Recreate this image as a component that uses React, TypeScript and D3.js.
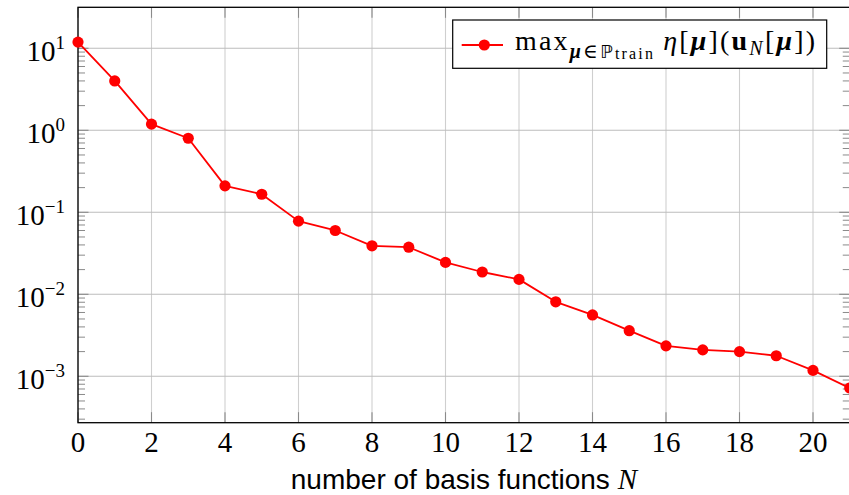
import React from 'react';
import * as d3 from 'd3';

// number of basis functions N
const basisN = [0, 1, 2, 3, 4, 5, 6, 7, 8, 9, 10, 11, 12, 13, 14, 15, 16, 17, 18, 19, 20, 21];
// max error estimator over training set
const maxEta = [
    11.9, 4.0, 1.19, 0.80, 0.21, 0.166, 0.078, 0.060, 0.039, 0.0375,
    0.0245, 0.0187, 0.0152, 0.0081, 0.0056, 0.0036, 0.00235, 0.00210,
    0.00200, 0.00178, 0.00118, 0.00072,
];
const xTicks = [0, 2, 4, 6, 8, 10, 12, 14, 16, 18, 20];
const yExponents = [1, 0, -1, -2, -3];

const W = 849;
const H = 495;
const margin = { top: 7.3, right: -0.75, bottom: 72.3, left: 78 };
const serif = '"Liberation Serif", "DejaVu Serif", serif';

const App = () => {
    const x = d3.scaleLinear()
        .domain([0, 21])
        .range([margin.left, W - margin.right]);

    const y = d3.scaleLog()
        .domain([Math.pow(10, -3.566), Math.pow(10, 1.5)])
        .range([H - margin.bottom, margin.top]);

    const [x0, x1] = x.range();
    const [yb, yt] = y.range();

    const pts = basisN.map((n, i) => ({ n, v: maxEta[i] }));

    const line = d3.line<{ n: number; v: number }>()
        .x(d => x(d.n))
        .y(d => y(d.v));

    // minor log ticks, only from the lowest decade up to the top major tick
    const minor: number[] = [];
    for (let e = -4; e <= 0; e++) {
        for (let k = 2; k <= 9; k++) {
            const v = k * Math.pow(10, e);
            if (v >= y.domain()[0] && v <= y.domain()[1]) minor.push(v);
        }
    }

    const fmtExp = (e: number) => (e < 0 ? '\u2212' + Math.abs(e) : String(e));

    return (
        <svg width={W} height={H} style={{ position: 'absolute', left: 0, top: 0, display: 'block' }}>
            <rect x={0} y={0} width={W} height={H} fill="white" />

            {/* grid */}
            {xTicks.map(t => (
                <line key={'gx' + t} x1={x(t)} x2={x(t)} y1={yt} y2={yb} stroke="#cfcfcf" strokeWidth={1.1} />
            ))}
            {yExponents.map(e => (
                <line key={'gy' + e} x1={x0} x2={x1} y1={y(Math.pow(10, e))} y2={y(Math.pow(10, e))} stroke="#bdbdbd" strokeWidth={1.1} />
            ))}

            {/* ticks */}
            {xTicks.map(t => (
                <g key={'tx' + t} stroke="#8a8a8a" strokeWidth={1.1}>
                    <line x1={x(t)} x2={x(t)} y1={yb} y2={yb - 10.5} />
                    <line x1={x(t)} x2={x(t)} y1={yt} y2={yt + 10.5} />
                </g>
            ))}
            {yExponents.map(e => (
                <g key={'ty' + e} stroke="#8a8a8a" strokeWidth={1.1}>
                    <line x1={x0} x2={x0 + 10.5} y1={y(Math.pow(10, e))} y2={y(Math.pow(10, e))} />
                    <line x1={x1} x2={x1 - 10.5} y1={y(Math.pow(10, e))} y2={y(Math.pow(10, e))} />
                </g>
            ))}
            {minor.map(v => (
                <g key={'tm' + v} stroke="#8a8a8a" strokeWidth={1}>
                    <line x1={x0} x2={x0 + 7} y1={y(v)} y2={y(v)} />
                    <line x1={x1} x2={x1 - 7} y1={y(v)} y2={y(v)} />
                </g>
            ))}

            {/* frame */}
            <rect x={x0} y={yt} width={x1 - x0} height={yb - yt} fill="none" stroke="black" strokeWidth={1.3} />

            {/* tick labels */}
            {xTicks.map(t => (
                <text key={'lx' + t} x={x(t)} y={452} textAnchor="middle" fontFamily={serif} fontSize={29}>
                    {t}
                </text>
            ))}
            {yExponents.map(e => (
                <text key={'ly' + e} x={65} y={y(Math.pow(10, e)) + 13} textAnchor="end" fontFamily={serif} fontSize={29}>
                    10<tspan fontSize={19} dy={-12}>{fmtExp(e)}</tspan>
                </text>
            ))}

            {/* series */}
            <path d={line(pts) || ''} fill="none" stroke="#ff0000" strokeWidth={1.8} strokeLinejoin="round" />
            {pts.map(d => (
                <circle key={'p' + d.n} cx={x(d.n)} cy={y(d.v)} r={5.6} fill="#ff0000" />
            ))}

            {/* axis label */}
            <text x={(x0 + x1) / 2} y={489} textAnchor="middle" fontSize={28}>
                <tspan fontFamily='"Liberation Sans", sans-serif'>number of basis functions </tspan>
                <tspan fontFamily={serif} fontStyle="italic" fontSize={29}>N</tspan>
            </text>

            {/* legend */}
            <g>
                <rect x={452.7} y={20} width={374} height={48.3} fill="white" stroke="black" strokeWidth={1.2} />
                <line x1={461.7} x2={503} y1={45} y2={45} stroke="#ff0000" strokeWidth={1.8} />
                <circle cx={484.3} cy={45} r={5.6} fill="#ff0000" />
                <text x={515} y={50} fontFamily={serif} fontSize={28} textLength={300} lengthAdjust="spacing">
                    <tspan>max</tspan>
                    <tspan fontSize={20} dy={8} fontWeight="bold" fontStyle="italic">μ</tspan>
                    <tspan fontSize={20}>∈</tspan>
                    <tspan fontSize={18} fontFamily='"DejaVu Sans", sans-serif'>ℙ</tspan>
                    <tspan fontSize={16} dy={1}>train</tspan>
                    <tspan dx={8} dy={-9} fontStyle="italic">η</tspan>
                    <tspan>[</tspan>
                    <tspan fontWeight="bold" fontStyle="italic">μ</tspan>
                    <tspan>](</tspan>
                    <tspan fontWeight="bold">u</tspan>
                    <tspan fontSize={20} dy={5} fontStyle="italic">N</tspan>
                    <tspan dy={-5}>[</tspan>
                    <tspan fontWeight="bold" fontStyle="italic">μ</tspan>
                    <tspan>])</tspan>
                </text>
            </g>
        </svg>
    );
};

export default App;
